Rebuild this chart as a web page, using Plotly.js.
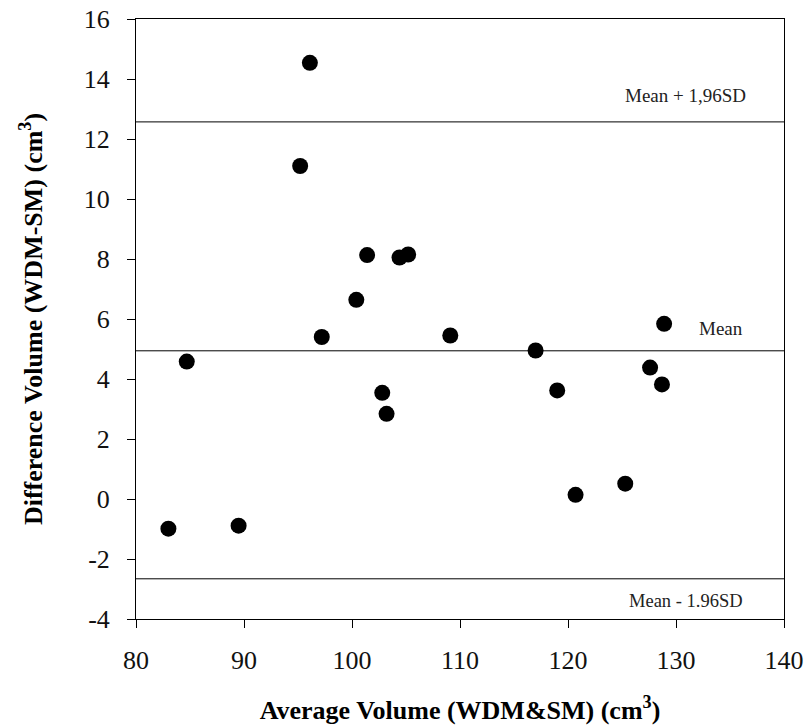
<!DOCTYPE html>
<html>
<head>
<meta charset="utf-8">
<script src="https://cdn.plot.ly/plotly-3.0.1.min.js"></script>
<style>html,body{margin:0;padding:0;background:#fff;}#chart{width:809px;height:726px;}</style>
</head>
<body>
<div id="chart"></div>
<script>
// Bland-Altman data
const avgVolume = [96.1, 95.2, 101.4, 100.4, 97.2, 84.7, 104.4, 105.2, 128.9, 109.1, 117.0, 102.8, 103.2, 83.0, 89.5, 127.6, 128.7, 119.0, 125.3, 120.7];
const diffVolume = [14.54, 11.10, 8.13, 6.64, 5.40, 4.58, 8.05, 8.15, 5.84, 5.45, 4.95, 3.54, 2.84, -0.99, -0.89, 4.38, 3.82, 3.62, 0.51, 0.14];
const meanDiff = 4.94;
const upperLimit = 12.57;
const lowerLimit = -2.66;
const xRange = [80, 140];
const yRange = [-4, 16];
const xTickVals = [80, 90, 100, 110, 120, 130, 140];
const xTickText = ["80", "90", "100", "110", "120", "130", "140"];
const yTickVals = [-4, -2, 0, 2, 4, 6, 8, 10, 12, 14, 16];
const yTickText = ["-4", "-2", "0", "2", "4", "6", "8", "10", "12", "14", "16"];
const lineLabels = ["Mean + 1,96SD", "Mean", "Mean - 1.96SD"];

const serif = "Liberation Serif, Times New Roman, serif";

const traces = [
  {x: xRange, y: [upperLimit, upperLimit], mode: "lines", line: {color: "#000", width: 1}, hoverinfo: "skip"},
  {x: xRange, y: [meanDiff, meanDiff], mode: "lines", line: {color: "#000", width: 1}, hoverinfo: "skip"},
  {x: xRange, y: [lowerLimit, lowerLimit], mode: "lines", line: {color: "#000", width: 1}, hoverinfo: "skip"},
  {x: avgVolume, y: diffVolume, mode: "markers", type: "scatter",
   marker: {color: "#000", size: 16, line: {width: 0}}}
];

const axisCommon = {
  showline: true, mirror: true, linecolor: "#000", linewidth: 1,
  ticks: "outside", ticklen: 8, tickcolor: "#000", tickwidth: 1,
  showgrid: false, zeroline: false,
  tickfont: {family: serif, size: 26, color: "#111"}
};

const layout = {
  width: 809, height: 726,
  margin: {l: 136, r: 25, t: 19, b: 107},
  paper_bgcolor: "#fff", plot_bgcolor: "#fff",
  showlegend: false,
  xaxis: Object.assign({}, axisCommon, {
    range: xRange, tickmode: "array", tickvals: xTickVals, ticktext: xTickText, ticklabelstandoff: 10,
    title: {text: "<b>Average Volume (WDM&SM) (cm<sup>3</sup>)</b>", font: {family: serif, size: 26, color: "#000"}, standoff: 26}
  }),
  yaxis: Object.assign({}, axisCommon, {
    range: yRange, tickmode: "array", tickvals: yTickVals, ticktext: yTickText, ticklabelstandoff: 12,
    title: {text: "<b>Difference Volume (WDM-SM) (cm<sup>3</sup>)</b>", font: {family: serif, size: 26, color: "#000"}, standoff: 33}
  }),
  annotations: [
    {x: 130.9, y: 13.46, xref: "x", yref: "y", text: lineLabels[0], showarrow: false, font: {family: serif, size: 19, color: "#222"}},
    {x: 134.2, y: 5.70, xref: "x", yref: "y", text: lineLabels[1], showarrow: false, font: {family: serif, size: 19, color: "#222"}},
    {x: 130.9, y: -3.39, xref: "x", yref: "y", text: lineLabels[2], showarrow: false, font: {family: serif, size: 18.5, color: "#222"}}
  ]
};

Plotly.newPlot("chart", traces, layout, {displayModeBar: false, staticPlot: true});
</script>
</body>
</html>
